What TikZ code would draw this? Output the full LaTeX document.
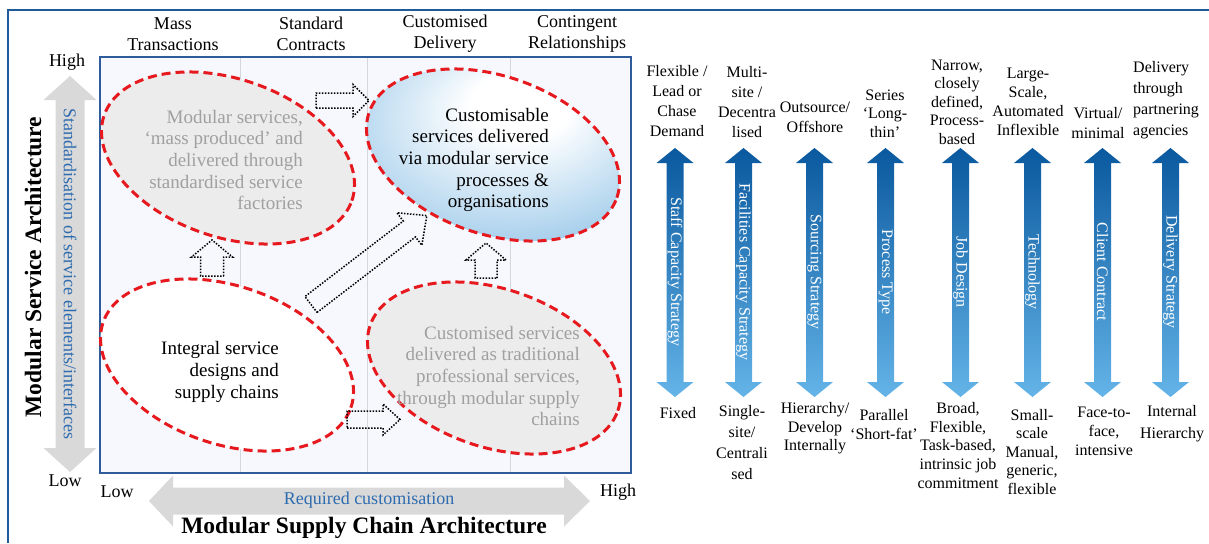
\documentclass[tikz,border=0pt]{standalone}
\usepackage{fontspec}
\setmainfont{Liberation Serif}
\usetikzlibrary{shapes.geometric}
\definecolor{framebl}{RGB}{31,90,156}
\definecolor{boxbl}{RGB}{46,92,154}
\definecolor{boxfill}{RGB}{246,248,253}
\definecolor{gridc}{RGB}{212,216,222}
\definecolor{garrow}{RGB}{217,217,217}
\definecolor{ellgray}{RGB}{236,236,236}
\definecolor{txtgray}{RGB}{160,160,160}
\definecolor{ellred}{RGB}{230,25,30}
\definecolor{txtblue}{RGB}{46,108,176}
\definecolor{ebl}{RGB}{150,198,232}
\definecolor{adark}{RGB}{10,88,158}
\definecolor{alight}{RGB}{100,180,232}
\pgfdeclareradialshading{ellshade}{\pgfpoint{6bp}{14bp}}{color(0bp)=(white); color(9bp)=(white); color(36bp)=(ebl); color(50bp)=(ebl)}
\newcommand{\blkarrow}[7]{%
  \draw[dotarrow, shift={(#1,#2)}, rotate=#3] (0,-#5) -- (#4-#7,-#5) -- (#4-#7,-#6) -- (#4,0) -- (#4-#7,#6) -- (#4-#7,#5) -- (0,#5) -- cycle;}
\begin{document}
\begin{tikzpicture}[x=1pt,y=1pt,
  ellbase/.style={ellipse, draw=ellred, line width=3pt, dash pattern=on 9pt off 5pt, minimum width=262pt, minimum height=158pt, rotate=-19, inner sep=0pt},
  etext/.style={align=right, font=\fontsize{19}{21.7}\selectfont, inner sep=0pt, anchor=east},
  hdr/.style={align=center, font=\fontsize{18}{21}\selectfont, inner sep=0pt},
  rlab/.style={align=center, font=\fontsize{16}{20}\selectfont, inner sep=0pt},
  atext/.style={rotate=-90, text=white, font=\fontsize{16}{18}\selectfont, inner sep=0pt},
  dotarrow/.style={draw=black, line width=1.5pt, dash pattern=on 1.5pt off 1.5pt},
  bluearr/.style={top color=adark, bottom color=alight, draw=none},
  gridline/.style={draw=gridc, line width=1pt},
  plain/.style={font=\fontsize{18}{21}\selectfont, inner sep=0pt}
]
\useasboundingbox (0,0) rectangle (1209,-543);
% outer frame
\draw[framebl, line width=2pt] (8,-543) -- (8,-10) -- (1209,-10);

% column headers
\node[hdr] (h1) at (173,-34) {Mass\\Transactions};
\node[hdr] (h2) at (311,-34) {Standard\\Contracts};
\node[hdr] (h3) at (445,-34) {Customised\\Delivery};
\node[hdr] (h4) at (577,-34) {Contingent\\Relationships};

% main box
\node[draw=boxbl, line width=2pt, fill=boxfill, minimum width=531pt, minimum height=416pt, inner sep=0pt] (box) at (365.5,-265) {};
\draw[gridline] (240,-58) -- (240,-472);
\draw[gridline] (367,-58) -- (367,-472);
\draw[gridline] (510,-58) -- (510,-472);

% grey axis arrows
\fill[garrow] (70,-76) -- (96.5,-100) -- (84.5,-100) -- (84.5,-448) -- (96.5,-448) -- (70,-472) -- (43.5,-448) -- (55.5,-448) -- (55.5,-100) -- (43.5,-100) -- cycle;
\fill[garrow] (149,-501) -- (173,-475.5) -- (173,-487.5) -- (564,-487.5) -- (564,-475.5) -- (590,-501) -- (564,-526.5) -- (564,-514.5) -- (173,-514.5) -- (173,-526.5) -- cycle;

\node[plain, text=txtblue, rotate=-90] (vlab) at (70,-274) {Standardisation of service elements/interfaces};
\node[font=\fontsize{23.5}{26}\selectfont\bfseries, rotate=90, inner sep=0pt] (vtitle) at (33,-267) {Modular Service Architecture};
\node[plain] (hi1) at (67,-62) {High};
\node[plain] (lo1) at (65,-481) {Low};
\node[plain] (lo2) at (117,-492) {Low};
\node[plain] (hi2) at (618,-492) {High};
\node[plain, text=txtblue] (hlab) at (369,-500) {Required customisation};
\node[font=\fontsize{23.5}{26}\selectfont\bfseries, inner sep=0pt] (htitle) at (364,-528) {Modular Supply Chain Architecture};

% ellipses
\node[ellbase, fill=ellgray] (e1) at (228,-158) {};
\node[ellbase, shading=ellshade] (e2) at (493,-155) {};
\node[ellbase, fill=white] (e3) at (227,-365) {};
\node[ellbase, fill=ellgray] (e4) at (494,-368) {};

\node[etext, text=txtgray] (t1) at (303,-160) {Modular services,\\‘mass produced’ and\\delivered through\\standardised service\\factories};
\node[etext] (t2) at (549,-160) {Customisable\\services delivered\\via modular service\\processes \&\\organisations};
\node[etext] (t3) at (279,-372) {Integral service\\designs and\\supply chains};
\node[etext, text=txtgray] (t4) at (580,-376) {Customised services\\delivered as traditional\\professional services,\\through modular supply\\chains};

% dotted block arrows
\blkarrow{316}{-100.5}{0}{53}{7.5}{16}{16}
\blkarrow{212}{-276}{90}{36}{11.5}{20.5}{17}
\blkarrow{486}{-278}{90}{35}{11}{20}{17}
\blkarrow{311}{-304.5}{37.5}{146}{10}{20.5}{22}
\blkarrow{347}{-419.5}{0}{53}{8.5}{15.5}{17}

% blue double arrows
\foreach \x/\n/\t in {675/a1/Staff Capacity Strategy, 743.5/a2/Facilities Capacity Strategy, 814.5/a3/Sourcing Strategy, 885.5/a4/Process Type, 960.5/a5/Job Design, 1032.5/a6/Technology, 1102.5/a7/Client Contract, 1170.5/a8/Delivery Strategy}{
  \path[bluearr] (\x,-148) -- (\x+18.5,-163) -- (\x+8.5,-163) -- (\x+8.5,-382) -- (\x+18.5,-382) -- (\x,-397) -- (\x-18.5,-382) -- (\x-8.5,-382) -- (\x-8.5,-163) -- (\x-18.5,-163) -- cycle;
  \node[atext] (\n) at (\x,-272) {\t};
}

% top labels
\node[rlab] (u1) at (677,-101.5) {Flexible /\\Lead or\\Chase\\Demand};
\node[rlab] (u2) at (747,-102) {Multi-\\site /\\Decentra\\lised};
\node[rlab] (u3) at (815,-117.5) {Outsource/\\Offshore};
\node[rlab, font=\fontsize{16}{18.5}\selectfont] (u4) at (885,-113.5) {Series\\‘Long-\\thin’};
\node[rlab, font=\fontsize{16}{18.5}\selectfont] (u5) at (957,-102) {Narrow,\\closely\\defined,\\Process-\\based};
\node[rlab, font=\fontsize{16}{19}\selectfont] (u6) at (1028,-101.5) {Large-\\Scale,\\Automated\\Inflexible};
\node[rlab] (u7) at (1098,-123) {Virtual/\\minimal};
\node[rlab, align=left, anchor=west, font=\fontsize{16}{21}\selectfont] (u8) at (1133,-100.5) {Delivery\\through\\partnering\\agencies};

% bottom labels
\node[rlab] (d1) at (678,-413) {Fixed};
\node[rlab, font=\fontsize{16}{21}\selectfont] (d2) at (742,-442.5) {Single-\\site/\\Centrali\\sed};
\node[rlab, font=\fontsize{16}{18.5}\selectfont] (d3) at (815,-428.5) {Hierarchy/\\Develop\\Internally};
\node[rlab, font=\fontsize{16}{19}\selectfont] (d4) at (884,-424.5) {Parallel\\‘Short-fat’};
\node[rlab, font=\fontsize{16}{18.75}\selectfont] (d5) at (958,-445.5) {Broad,\\Flexible,\\Task-based,\\intrinsic job\\commitment};
\node[rlab, font=\fontsize{16}{18.5}\selectfont] (d6) at (1032,-452) {Small-\\scale\\Manual,\\generic,\\flexible};
\node[rlab, font=\fontsize{16}{19}\selectfont] (d7) at (1104,-431) {Face-to-\\face,\\intensive};
\node[rlab, font=\fontsize{16}{22}\selectfont] (d8) at (1172,-424) {Internal\\Hierarchy};
\end{tikzpicture}
\end{document}
